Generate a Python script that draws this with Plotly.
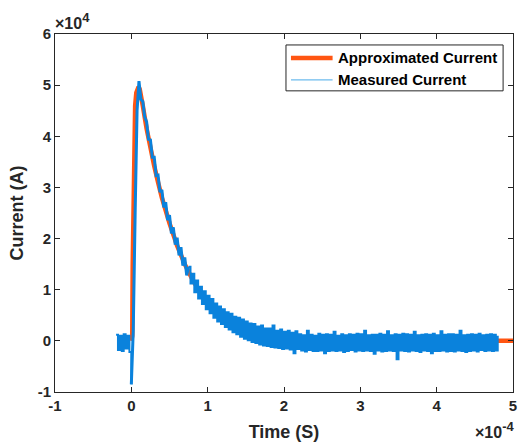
import plotly.graph_objects as go

# Units as read on the chart: time in 1e-4 s, current in 1e4 A
approx_t = [0, 0.012, 0.018, 0.026, 0.032, 0.039, 0.05, 0.065, 0.08, 0.095, 0.11, 0.13, 0.15,
            0.2, 0.25, 0.3, 0.35, 0.4, 0.5, 0.6, 0.7, 0.8, 0.9, 1.0, 1.2, 1.4, 1.6, 1.8, 2.0,
            2.5, 3.0, 3.5, 4.0, 4.5, 5.0, 5.2]
approx_i = [0, 0.1, 1.5, 2.9, 3.6, 4.18, 4.6, 4.85, 4.95, 4.97, 4.92, 4.78, 4.6,
            4.15, 3.75, 3.42, 3.1, 2.8, 2.3, 1.86, 1.5, 1.2, 0.95, 0.76, 0.5, 0.33, 0.22, 0.14, 0.09,
            0.03, 0.01, 0.0, 0.0, 0.0, 0.0, 0.0]

meas_t0 = -0.2
meas_dt = 0.025
meas_i = [
    0.12, -0.18, 0.10, -0.20, 0.13, -0.15, 0.10, -0.22,
    -0.85, 0.20, 2.50, 4.50, 5.08, 4.72, 4.68, 4.38,
    4.28, 3.94, 3.93, 3.59, 3.59, 3.23, 3.24, 2.91,
    2.95, 2.61, 2.71, 2.36, 2.46, 2.10, 2.22, 1.88,
    2.02, 1.67, 1.83, 1.47, 1.63, 1.28, 1.45, 1.12,
    1.31, 0.95, 1.18, 0.83, 1.06, 0.72, 0.97, 0.62,
    0.88, 0.54, 0.82, 0.45, 0.73, 0.38, 0.67, 0.33,
    0.62, 0.27, 0.56, 0.22, 0.53, 0.17, 0.47, 0.13,
    0.45, 0.08, 0.42, 0.04, 0.38, 0.01, 0.34, -0.02,
    0.33, -0.04, 0.28, -0.07, 0.30, -0.09, 0.24, -0.10,
    0.24, -0.12, 0.30, -0.13, 0.20, -0.14, 0.22, -0.16,
    0.18, -0.15, 0.20, -0.17, 0.16, -0.24, 0.19, -0.16,
    0.13, -0.19, 0.11, -0.21, 0.20, -0.18, 0.12, -0.20,
    0.10, -0.20, 0.14, -0.19, 0.12, -0.24, 0.13, -0.20,
    0.12, -0.19, 0.18, -0.20, 0.10, -0.19, 0.13, -0.22,
    0.11, -0.20, 0.13, -0.18, 0.12, -0.21, 0.14, -0.19,
    0.13, -0.20, 0.20, -0.19, 0.11, -0.20, 0.12, -0.25,
    0.12, -0.19, 0.14, -0.21, 0.12, -0.20, 0.19, -0.19,
    0.11, -0.20, 0.13, -0.36, 0.12, -0.19, 0.14, -0.20,
    0.13, -0.21, 0.12, -0.19, 0.18, -0.20, 0.11, -0.22,
    0.12, -0.19, 0.13, -0.20, 0.12, -0.24, 0.14, -0.20,
    0.11, -0.20, 0.19, -0.19, 0.12, -0.21, 0.13, -0.20,
    0.13, -0.21, 0.12, -0.19, 0.20, -0.20, 0.11, -0.22,
    0.12, -0.20, 0.13, -0.19, 0.12, -0.21, 0.14, -0.18,
    0.11, -0.20, 0.12, -0.19, 0.13, -0.20, 0.12, -0.19,
    0.10,
]
meas_t = [meas_t0 + k * meas_dt for k in range(len(meas_i))]

# sample indices where the trigger occurs and where the fast decay ends
trigger_idx = 8
fast_end_idx = 38

series_names = ["Approximated Current", "Measured Current"]

x_ticks = [-1, 0, 1, 2, 3, 4, 5]
x_tick_labels = ["-1", "0", "1", "2", "3", "4", "5"]
y_ticks = [-1, 0, 1, 2, 3, 4, 5, 6]
y_tick_labels = ["-1", "0", "1", "2", "3", "4", "5", "6"]

ORANGE = "#FF5512"
BLUE = "#0A82DC"
BLUE_LEGEND = "#6DBBEE"
INK = "#262626"
FONT = "Liberation Sans"

fig = go.Figure()
fig.add_trace(go.Scatter(x=approx_t, y=approx_i, mode="lines", name=series_names[0],
                         line=dict(color=ORANGE, width=4.5), showlegend=False))
# measured current: dense noisy record, drawn in pieces (same series)
segments = [(0, trigger_idx + 1, "hv", 2),
            (trigger_idx, fast_end_idx + 1, "linear", 3),
            (fast_end_idx, len(meas_i), "hv", 2)]
for a, b, shp, w in segments:
    fig.add_trace(go.Scatter(x=meas_t[a:b], y=meas_i[a:b], mode="lines", name=series_names[1],
                             line=dict(color=BLUE, width=w, shape=shp), showlegend=False))

axis_common = dict(showline=True, linecolor=INK, linewidth=1, mirror="ticks",
                   ticks="inside", ticklen=5, tickcolor=INK, showgrid=False, zeroline=False,
                   ticklabeloverflow="allow",
                   tickfont=dict(family=FONT, size=15, color=INK, weight="bold"))
fig.update_xaxes(range=[-1, 5], tickvals=x_ticks, ticktext=x_tick_labels,
                 title=dict(text="Time (S)", font=dict(family=FONT, size=18, color=INK, weight="bold"),
                            standoff=12), **axis_common)
fig.update_yaxes(range=[-1, 6], tickvals=y_ticks, ticktext=y_tick_labels,
                 title=dict(text="Current (A)", font=dict(family=FONT, size=18, color=INK, weight="bold"),
                            standoff=9), **axis_common)

# exponent labels
fig.add_annotation(xref="paper", yref="paper", x=0.0, y=1.0, xanchor="left", yanchor="bottom",
                   text="×10<sup><span style='font-size:13px'>4</span></sup>", showarrow=False,
                   yshift=0, xshift=-2,
                   font=dict(family=FONT, size=16, color=INK, weight="bold"))
fig.add_annotation(xref="paper", yref="paper", x=1.0, y=0.0, xanchor="right", yanchor="top",
                   text="×10<sup><span style='font-size:13px'>-4</span></sup>", showarrow=False,
                   yshift=-25, xshift=3,
                   font=dict(family=FONT, size=16, color=INK, weight="bold"))

# legend box (paper coordinates of the plot area)
fig.add_shape(type="rect", xref="paper", yref="paper", x0=0.5043, x1=0.9784, y0=0.8412, y1=0.9694,
              line=dict(color=INK, width=1), fillcolor="white", layer="above")
fig.add_shape(type="line", xref="paper", yref="paper", x0=0.5152, x1=0.6061, y0=0.9331, y1=0.9331,
              line=dict(color=ORANGE, width=4.5), layer="above")
fig.add_shape(type="line", xref="paper", yref="paper", x0=0.5152, x1=0.6061, y0=0.8719, y1=0.8719,
              line=dict(color=BLUE_LEGEND, width=1.2), layer="above")
for name, yy in zip(series_names, [0.9331, 0.8719]):
    fig.add_annotation(xref="paper", yref="paper", x=0.6125, y=yy, xanchor="left", yanchor="middle",
                       text=name, showarrow=False,
                       font=dict(family=FONT, size=15, color="black", weight="bold"))

fig.update_layout(
    width=524, height=446,
    margin=dict(l=55, r=7, t=34, b=53),
    paper_bgcolor="white", plot_bgcolor="white",
    showlegend=False,
)

fig.write_html("out.html", config={"displayModeBar": False},
               post_script="document.body.style.margin='0';")
